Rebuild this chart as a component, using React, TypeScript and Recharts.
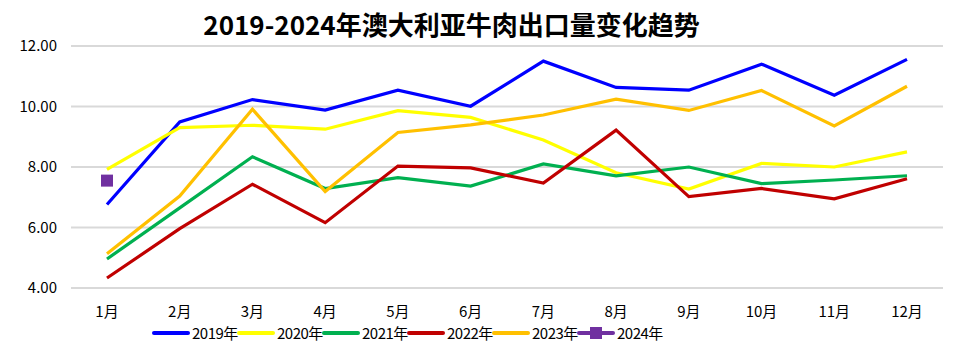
import { LineChart, Line, XAxis, YAxis, CartesianGrid } from "recharts";

const months = ["1月", "2月", "3月", "4月", "5月", "6月", "7月", "8月", "9月", "10月", "11月", "12月"];

const y2019 = [6.76, 9.49, 10.23, 9.88, 10.54, 10.01, 11.5, 10.63, 10.54, 11.4, 10.37, 11.56];
const y2020 = [7.92, 9.3, 9.38, 9.25, 9.86, 9.64, 8.89, 7.81, 7.27, 8.12, 8.0, 8.5];
const y2021 = [4.96, 6.65, 8.34, 7.29, 7.65, 7.37, 8.1, 7.71, 8.0, 7.45, 7.57, 7.71];
const y2022 = [4.33, 5.96, 7.43, 6.16, 8.03, 7.97, 7.47, 9.22, 7.02, 7.29, 6.95, 7.61];
const y2023 = [5.13, 7.04, 9.91, 7.19, 9.14, 9.39, 9.72, 10.24, 9.87, 10.53, 9.36, 10.67];
const y2024 = [7.55];

const yTicks = [4, 6, 8, 10, 12];

const series = [
  { key: "2019年", color: "#0000FF", values: y2019 },
  { key: "2020年", color: "#FFFF00", values: y2020 },
  { key: "2021年", color: "#00B050", values: y2021 },
  { key: "2022年", color: "#C00000", values: y2022 },
  { key: "2023年", color: "#FFC000", values: y2023 },
  { key: "2024年", color: "#7030A0", values: y2024 },
];

const data = months.map((m, i) => {
  const row: Record<string, string | number | null> = { month: m };
  series.forEach((s) => {
    row[s.key] = i < s.values.length ? s.values[i] : null;
  });
  return row;
});

const font = '"Noto Sans CJK SC", "Noto Sans", sans-serif';

const SquareDot = (props: any) => {
  const { cx, cy, value } = props;
  if (value == null || cx == null) return null;
  return <rect x={cx - 6} y={cy - 6} width={12} height={12} fill="#7030A0" />;
};

// legend drawn as plain html so it does not eat plot height
const LegendRow = () => (
  <div
    style={{
      position: "absolute",
      left: 152,
      top: 324,
      display: "flex",
      alignItems: "center",
      fontFamily: font,
      fontSize: 15,
      lineHeight: "18px",
      color: "#000",
      whiteSpace: "nowrap",
    }}
  >
    {series.map((s) => (
      <div key={s.key} style={{ display: "flex", alignItems: "center", width: 85, flexShrink: 0 }}>
        <svg width={38} height={14} style={{ flexShrink: 0 }}>
          <line x1={2} y1={7} x2={36} y2={7} stroke={s.color} strokeWidth={4} strokeLinecap="round" />
          {s.key === "2024年" && <rect x={13} y={1} width={12} height={12} fill={s.color} />}
        </svg>
        <span style={{ marginLeft: 2, letterSpacing: -0.5 }}>{s.key}</span>
      </div>
    ))}
  </div>
);

export default function App() {
  return (
    <div style={{ position: "absolute", left: 0, top: 0, width: 963, height: 354, background: "#fff" }}>
      <div
        style={{
          position: "absolute",
          left: 0,
          top: 6,
          width: 903,
          textAlign: "center",
          fontFamily: font,
          fontWeight: "bold",
          fontSize: 26,
          lineHeight: "36px",
          color: "#000",
        }}
      >
        2019-2024年澳大利亚牛肉出口量变化趋势
      </div>
      <LineChart width={963} height={354} data={data} margin={{ top: 46, right: 20, bottom: 36, left: 0 }}>
        <CartesianGrid vertical={false} stroke="#D9D9D9" strokeWidth={2} />
        <XAxis
          dataKey="month"
          axisLine={false}
          tickLine={false}
          padding={{ left: 36, right: 36 }}
          tick={{ fill: "#000", fontSize: 15, fontFamily: font }}
          tickMargin={12}
          interval={0}
        />
        <YAxis
          domain={[4, 12]}
          ticks={yTicks}
          width={71}
          axisLine={false}
          tickLine={false}
          tickFormatter={(v: number) => v.toFixed(2)}
          tick={{ fill: "#000", fontSize: 15, fontFamily: font }}
          tickMargin={8}
        />
        {series.map((s) => (
          <Line
            key={s.key}
            dataKey={s.key}
            stroke={s.color}
            strokeWidth={3.2}
            dot={s.key === "2024年" ? <SquareDot /> : false}
            activeDot={false}
            type="linear"
            isAnimationActive={false}
          />
        ))}
      </LineChart>
      <LegendRow />
    </div>
  );
}
